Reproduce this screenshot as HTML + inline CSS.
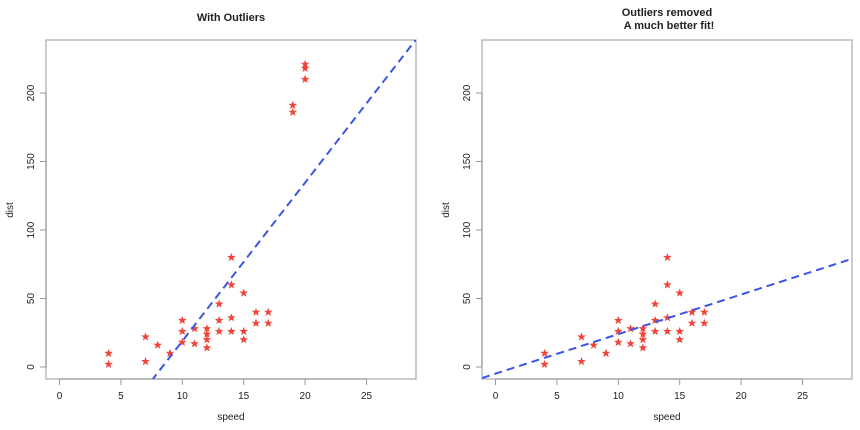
<!DOCTYPE html>
<html><head><style>body{margin:0;background:#fff}svg{display:block}text{font-family:"Liberation Sans",sans-serif;fill:#222}</style></head>
<body>
<svg width="860" height="430" viewBox="0 0 860 430">
<defs>
<polygon id="s" points="0,-4.5 1.1,-1.5 4.3,-1.4 1.8,0.6 2.7,3.7 0,1.9 -2.7,3.7 -1.8,0.6 -4.3,-1.4 -1.1,-1.5" fill="#f0453a"/>
<clipPath id="c1"><rect x="46" y="40" width="370" height="339"/></clipPath>
<clipPath id="c2"><rect x="482" y="40" width="370" height="339"/></clipPath>
<g id="pts">
<use href="#s" x="108.6" y="364.3"/><use href="#s" x="108.6" y="353.3"/>
<use href="#s" x="145.5" y="361.5"/><use href="#s" x="145.5" y="336.9"/>
<use href="#s" x="157.7" y="345.1"/><use href="#s" x="170.0" y="353.3"/>
<use href="#s" x="182.3" y="342.3"/><use href="#s" x="182.3" y="331.4"/><use href="#s" x="182.3" y="320.4"/>
<use href="#s" x="194.6" y="343.7"/><use href="#s" x="194.6" y="328.6"/>
<use href="#s" x="206.9" y="347.8"/><use href="#s" x="206.9" y="339.6"/><use href="#s" x="206.9" y="334.1"/><use href="#s" x="206.9" y="328.6"/>
<use href="#s" x="219.1" y="331.4"/><use href="#s" x="219.1" y="320.4"/><use href="#s" x="219.1" y="304.0"/>
<use href="#s" x="231.4" y="331.4"/><use href="#s" x="231.4" y="317.7"/><use href="#s" x="231.4" y="284.8"/><use href="#s" x="231.4" y="257.4"/>
<use href="#s" x="243.7" y="339.6"/><use href="#s" x="243.7" y="331.4"/><use href="#s" x="243.7" y="293.0"/>
<use href="#s" x="256.0" y="323.2"/><use href="#s" x="256.0" y="312.2"/>
<use href="#s" x="268.3" y="323.2"/><use href="#s" x="268.3" y="312.2"/>
</g>
</defs>
<g>
<rect x="46" y="40" width="370" height="339" fill="none" stroke="#bbb" stroke-width="1.5"/>
<g stroke="#999" stroke-width="1">
<line x1="59.5" y1="379" x2="366.5" y2="379"/>
<line x1="59.5" y1="379" x2="59.5" y2="385"/><line x1="120.9" y1="379" x2="120.9" y2="385"/><line x1="182.3" y1="379" x2="182.3" y2="385"/><line x1="243.7" y1="379" x2="243.7" y2="385"/><line x1="305.1" y1="379" x2="305.1" y2="385"/><line x1="366.5" y1="379" x2="366.5" y2="385"/>
<line x1="46" y1="367" x2="46" y2="93"/>
<line x1="40" y1="367" x2="46" y2="367"/><line x1="40" y1="298.5" x2="46" y2="298.5"/><line x1="40" y1="230" x2="46" y2="230"/><line x1="40" y1="161.5" x2="46" y2="161.5"/><line x1="40" y1="93" x2="46" y2="93"/>
</g>
<g font-size="10" text-anchor="middle">
<text x="59.5" y="399">0</text><text x="120.9" y="399">5</text><text x="182.3" y="399">10</text><text x="243.7" y="399">15</text><text x="305.1" y="399">20</text><text x="366.5" y="399">25</text>
<text transform="translate(34,367) rotate(-90)">0</text><text transform="translate(34,298.5) rotate(-90)">50</text><text transform="translate(34,230) rotate(-90)">100</text><text transform="translate(34,161.5) rotate(-90)">150</text><text transform="translate(34,93) rotate(-90)">200</text>
<text x="231" y="420">speed</text>
<text transform="translate(13,210) rotate(-90)">dist</text>
</g>
<text x="231" y="21" font-size="11" font-weight="bold" text-anchor="middle">With Outliers</text>
</g>
<g transform="translate(436,0)">
<rect x="46" y="40" width="370" height="339" fill="none" stroke="#bbb" stroke-width="1.5"/>
<g stroke="#999" stroke-width="1">
<line x1="59.5" y1="379" x2="366.5" y2="379"/>
<line x1="59.5" y1="379" x2="59.5" y2="385"/><line x1="120.9" y1="379" x2="120.9" y2="385"/><line x1="182.3" y1="379" x2="182.3" y2="385"/><line x1="243.7" y1="379" x2="243.7" y2="385"/><line x1="305.1" y1="379" x2="305.1" y2="385"/><line x1="366.5" y1="379" x2="366.5" y2="385"/>
<line x1="46" y1="367" x2="46" y2="93"/>
<line x1="40" y1="367" x2="46" y2="367"/><line x1="40" y1="298.5" x2="46" y2="298.5"/><line x1="40" y1="230" x2="46" y2="230"/><line x1="40" y1="161.5" x2="46" y2="161.5"/><line x1="40" y1="93" x2="46" y2="93"/>
</g>
<g font-size="10" text-anchor="middle">
<text x="59.5" y="399">0</text><text x="120.9" y="399">5</text><text x="182.3" y="399">10</text><text x="243.7" y="399">15</text><text x="305.1" y="399">20</text><text x="366.5" y="399">25</text>
<text transform="translate(34,367) rotate(-90)">0</text><text transform="translate(34,298.5) rotate(-90)">50</text><text transform="translate(34,230) rotate(-90)">100</text><text transform="translate(34,161.5) rotate(-90)">150</text><text transform="translate(34,93) rotate(-90)">200</text>
<text x="231" y="420">speed</text>
<text transform="translate(13,210) rotate(-90)">dist</text>
</g>
<text x="231" y="16" font-size="11" font-weight="bold" text-anchor="middle">Outliers removed</text>
<text x="233" y="29" font-size="11" font-weight="bold" text-anchor="middle">A much better fit!</text>
</g>
<use href="#pts"/>
<use href="#pts" x="436"/>
<use href="#s" x="292.8" y="112.2"/><use href="#s" x="292.8" y="105.3"/>
<use href="#s" x="305.1" y="79.3"/><use href="#s" x="305.1" y="68.3"/><use href="#s" x="305.1" y="64.2"/>
<line clip-path="url(#c1)" x1="151.6" y1="380.7" x2="415.6" y2="40" stroke="#3b55e6" stroke-width="2" stroke-dasharray="8,5"/>
<line clip-path="url(#c2)" x1="482" y1="378" x2="852" y2="258.8" stroke="#3b55e6" stroke-width="2" stroke-dasharray="8,5"/>
</svg>
</body></html>
